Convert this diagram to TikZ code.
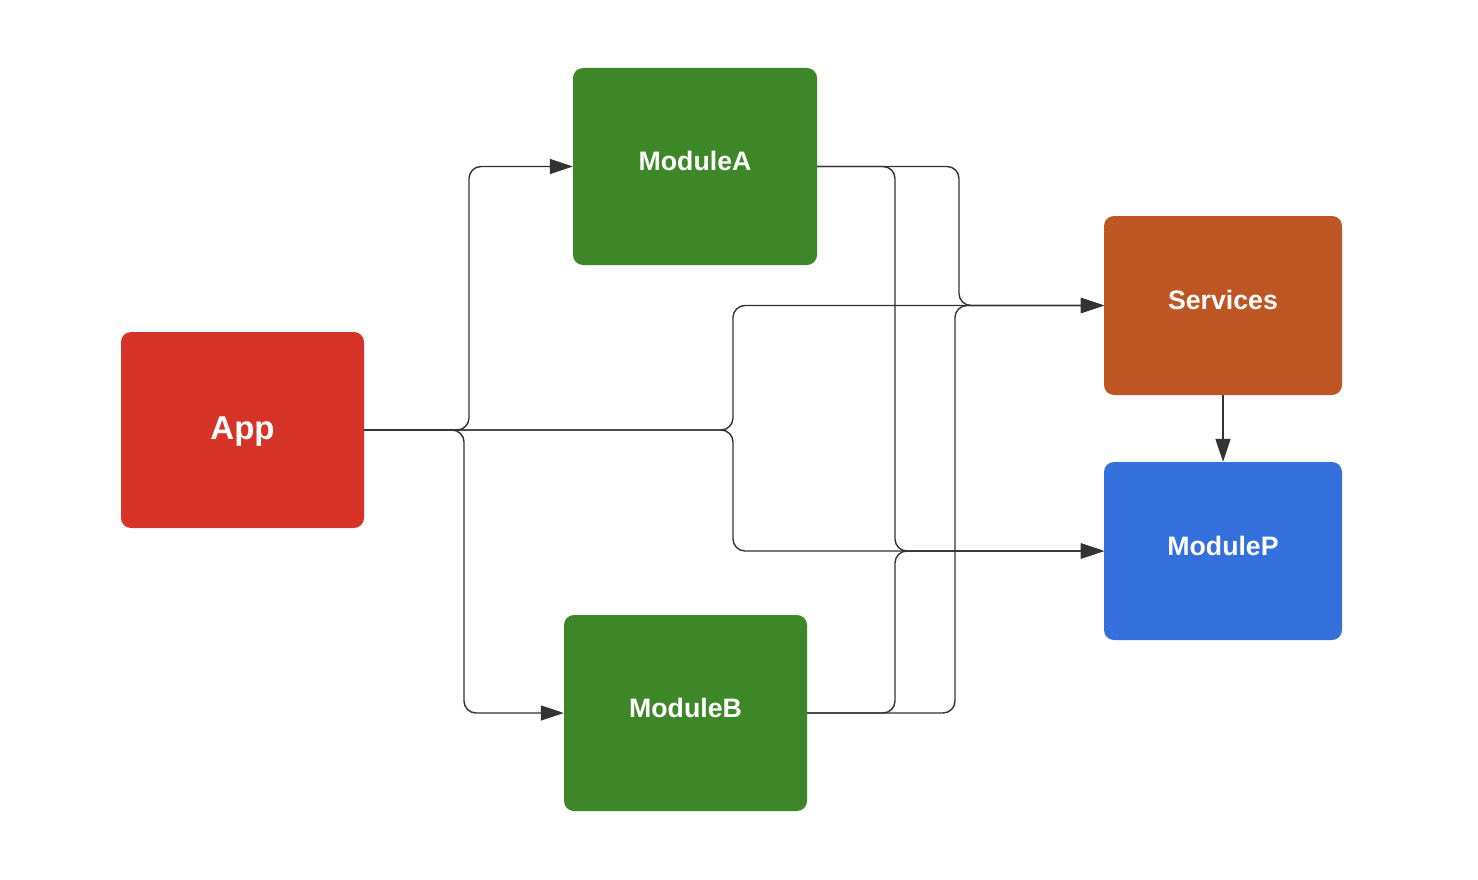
\documentclass[tikz,border=0pt]{standalone}
\usepackage{fontspec}
\setmainfont{Liberation Sans}
\usetikzlibrary{arrows.meta}
\definecolor{appred}{HTML}{D53427}
\definecolor{modgreen}{HTML}{3D8729}
\definecolor{servorange}{HTML}{BD5622}
\definecolor{modblue}{HTML}{3370DC}
\definecolor{linegray}{HTML}{333333}
\tikzset{
  box/.style={rectangle, rounded corners=10pt, draw=none, inner sep=0pt},
  boxtext/.style={font=\bfseries\fontsize{26.7}{30}\selectfont, text=white},
  conn/.style={draw=linegray, line width=1.4pt, rounded corners=12pt,
    -{Triangle[length=23pt,width=15pt]}},
}
\begin{document}
\begin{tikzpicture}[x=1pt,y=-1pt]
\useasboundingbox (0,0) rectangle (1478,880);
\fill[white] (0,0) rectangle (1478,880);

\node[box, fill=appred, minimum width=243pt, minimum height=196pt,
  label={[font=\bfseries\fontsize{33}{38}\selectfont, text=white, yshift=-2pt]center:App}]
  (app) at (242.5,430) {};
\node[box, fill=modgreen, minimum width=244pt, minimum height=197pt,
  label={[boxtext, yshift=5.5pt]center:ModuleA}]
  (ma) at (695,166.5) {};
\node[box, fill=modgreen, minimum width=243pt, minimum height=196pt,
  label={[boxtext, yshift=5.5pt]center:ModuleB}]
  (mb) at (685.5,713) {};
\node[box, fill=servorange, minimum width=238pt, minimum height=179pt,
  label={[boxtext, yshift=5.5pt]center:Services}]
  (serv) at (1223,305.5) {};
\node[box, fill=modblue, minimum width=238pt, minimum height=178pt,
  label={[boxtext, yshift=5.5pt]center:ModuleP}]
  (mp) at (1223,551) {};

% App connectors
\draw[conn] (app.east) -- (app.east -| 469,0) |- (ma.west);
\draw[conn] (app.east) -- (app.east -| 464,0) |- (mb.west);
\draw[conn] (app.east) -- (app.east -| 733,0) |- (serv.west);
\draw[conn] (app.east) -- (app.east -| 733,0) |- (mp.west);

% ModuleA connectors
\draw[conn] (ma.east) -- (ma.east -| 959,0) |- (serv.west);
\draw[conn] (ma.east) -- (ma.east -| 895,0) |- (mp.west);

% ModuleB connectors
\draw[conn] (mb.east) -- (mb.east -| 955,0) |- (serv.west);
\draw[conn] (mb.east) -- (mb.east -| 895,0) |- (mp.west);

% Services to ModuleP
\draw[conn] (serv.south) -- (mp.north);
\end{tikzpicture}
\end{document}
